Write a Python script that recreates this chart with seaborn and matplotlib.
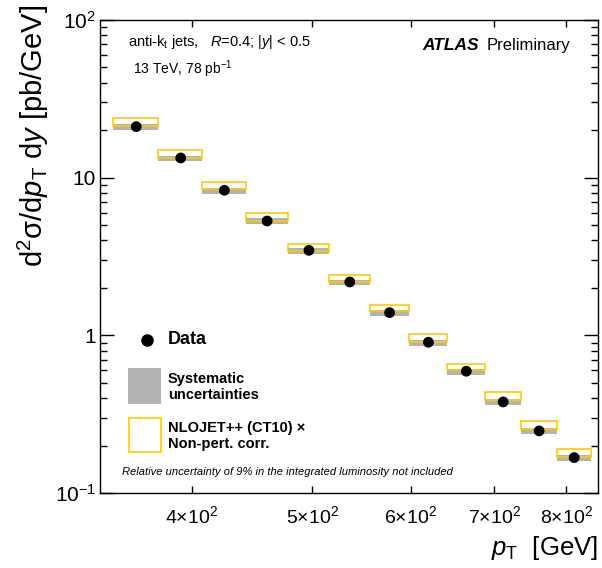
import numpy as np
import pandas as pd
import seaborn as sns
import matplotlib.pyplot as plt
from matplotlib.patches import Rectangle
from matplotlib.ticker import LogLocator, NullFormatter, NullLocator

# pT bin edges [GeV]
pt_edges = [346, 376, 408, 442, 478, 516, 556, 598, 642, 688, 736, 786, 838]
# measured cross section [pb/GeV]
xsec = [21.06, 13.33, 8.32, 5.31, 3.46, 2.18, 1.393, 0.904, 0.592, 0.378, 0.2477, 0.1677]
# systematic band
syst_lo = [20.07, 12.70, 7.93, 5.06, 3.30, 2.08, 1.328, 0.862, 0.564, 0.360, 0.236, 0.160]
syst_hi = [21.84, 13.82, 8.63, 5.51, 3.59, 2.26, 1.445, 0.937, 0.614, 0.392, 0.257, 0.174]
# NLOJET++ x non-pert. corr. band
theory_lo = [21.36, 13.39, 8.44, 5.34, 3.44, 2.19, 1.428, 0.912, 0.600, 0.389, 0.256, 0.1687]
theory_hi = [23.8, 14.92, 9.43, 5.95, 3.82, 2.43, 1.566, 1.016, 0.662, 0.436, 0.285, 0.1895]

xtick_vals = [400, 500, 600, 700, 800]
xtick_labels = ["4×10$^{2}$", "5×10$^{2}$", "6×10$^{2}$", "7×10$^{2}$", "8×10$^{2}$"]
ytick_vals = [0.1, 1, 10, 100]
ytick_labels = ["10$^{-1}$", "1", "10", "10$^{2}$"]

yellow = "#ffcc00"
grey = "#b3b3b3"

sns.set_style("ticks")
plt.rcParams['font.family'] = ['Liberation Sans', 'DejaVu Sans']
plt.rcParams['mathtext.fontset'] = 'custom'
plt.rcParams['mathtext.rm'] = 'Liberation Sans'
plt.rcParams['mathtext.it'] = 'Liberation Sans:italic'
plt.rcParams['mathtext.bf'] = 'Liberation Sans:bold'
plt.rcParams['mathtext.sf'] = 'Liberation Sans'
# ROOT-like black text instead of seaborn's dark grey
for key in ['text.color', 'axes.labelcolor', 'xtick.color', 'ytick.color', 'axes.edgecolor']:
    plt.rcParams[key] = 'black'

edges = np.array(pt_edges, dtype=float)
df = pd.DataFrame({
    "lo": edges[:-1],
    "hi": edges[1:],
    "xsec": xsec,
    "syst_lo": syst_lo,
    "syst_hi": syst_hi,
    "th_lo": theory_lo,
    "th_hi": theory_hi,
})
df["pt"] = (df["lo"] + df["hi"]) / 2
df["width"] = df["hi"] - df["lo"]

fig = plt.figure(figsize=(6.02, 5.68), dpi=100)
ax = fig.add_axes([100 / 602, 75 / 568, 498 / 602, 473 / 568])
ax.set_xscale("log")
ax.set_yscale("log")

# systematic uncertainty boxes
ax.bar(df["lo"], df["syst_hi"] - df["syst_lo"], bottom=df["syst_lo"], width=df["width"],
       align="edge", color=grey, lw=0, zorder=1)
# theory boxes
ax.bar(df["lo"], df["th_hi"] - df["th_lo"], bottom=df["th_lo"], width=df["width"],
       align="edge", fill=False, edgecolor=yellow, lw=1.2, zorder=2)
# data
sns.scatterplot(data=df, x="pt", y="xsec", color="black", s=60, edgecolor="none",
                ax=ax, zorder=3, legend=False)

ax.set_xlim(337.6, 848.6)
ax.set_ylim(0.1, 100)

ax.set_xticks(xtick_vals, labels=xtick_labels)
ax.xaxis.set_minor_locator(NullLocator())
ax.set_yticks(ytick_vals, labels=ytick_labels)
ax.yaxis.set_minor_locator(LogLocator(base=10, subs=np.arange(2, 10)))
ax.yaxis.set_minor_formatter(NullFormatter())

ax.tick_params(axis="both", which="both", direction="in", top=True, right=True,
               color="black", labelcolor="black", width=1)
ax.tick_params(axis="y", which="major", length=10, pad=3, labelsize=15)
ax.tick_params(axis="y", which="minor", length=5)
ax.tick_params(axis="x", which="major", length=5, pad=9, labelsize=14)
for sp in ax.spines.values():
    sp.set_linewidth(1)
    sp.set_color("black")

ax.set_ylabel("d$^{2}$σ/d$p_{\\rm T}$ d$y$ [pb/GeV]", fontsize=21, ha="right", va="center")
ax.yaxis.set_label_coords(-0.1345, 1.032)
ax.set_xlabel("$p_{\\rm T}$  [GeV]", fontsize=18.5, ha="right", va="center")
ax.xaxis.set_label_coords(1.0, -0.116)

# labels in the top corners
ax.text(0.0562, 0.9535, "anti-k$_{\\rm t}$ jets,   $R$=0.4; |$y$| < 0.5",
        transform=ax.transAxes, fontsize=10.5, va="center")
ax.text(0.066, 0.8964, "13 TeV, 78 pb$^{-1}$", transform=ax.transAxes, fontsize=10, va="center")
ax.text(0.6466, 0.947, "ATLAS", transform=ax.transAxes, fontsize=12.5,
        fontweight="bold", style="italic", va="center")
ax.text(0.7765, 0.947, "Preliminary", transform=ax.transAxes, fontsize=12, va="center")

# legend
ax.plot([0.0944], [0.3235], "o", ms=8, color="black", transform=ax.transAxes)
ax.text(0.1365, 0.3235, "Data", transform=ax.transAxes, fontsize=13,
        fontweight="bold", va="center")
ax.add_patch(Rectangle((0.0562, 0.188), 0.0663, 0.076, transform=ax.transAxes,
                       color=grey, lw=0))
ax.text(0.1365, 0.224, "Systematic\nuncertainties", transform=ax.transAxes,
        fontsize=10.5, fontweight="bold", va="center", linespacing=1.2)
ax.add_patch(Rectangle((0.0582, 0.0867), 0.0643, 0.0719, transform=ax.transAxes,
                       fill=False, edgecolor=yellow, lw=1.2))
ax.text(0.1365, 0.1205, "NLOJET++ (CT10) ×\nNon-pert. corr.", transform=ax.transAxes,
        fontsize=10.5, fontweight="bold", va="center", linespacing=1.2)
ax.text(0.0442, 0.0444, "Relative uncertainty of 9% in the integrated luminosity not included",
        transform=ax.transAxes, fontsize=8, style="italic", va="center")

fig.savefig("out.png", dpi=100)
